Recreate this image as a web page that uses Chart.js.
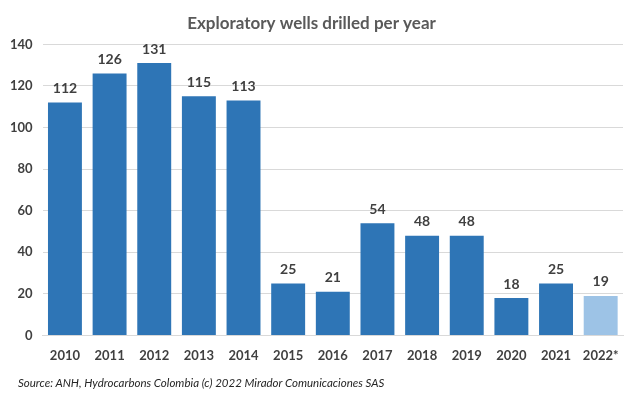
<!DOCTYPE html>
<html>
<head>
<meta charset="utf-8">
<script src="https://cdn.jsdelivr.net/npm/chart.js@4"></script>
<style>
  body { margin: 0; background: #fff; }
  #wrap { position: relative; width: 643px; height: 397px; }
  #source { position: absolute; left: 18px; top: 376px; font: italic 11.5px Lato, "Open Sans", sans-serif; color: #262626; }
</style>
</head>
<body>
<div id="wrap">
  <canvas id="myChart" width="643" height="397"></canvas>
  <div id="source">Source: ANH, Hydrocarbons Colombia (c) 2022 Mirador Comunicaciones SAS</div>
</div>
<script>
let years = ['2010', '2011', '2012', '2013', '2014', '2015', '2016', '2017', '2018', '2019', '2020', '2021', '2022*'];
let wells = [112, 126, 131, 115, 113, 25, 21, 54, 48, 48, 18, 25, 19];
let colors = ['#2E75B6', '#2E75B6', '#2E75B6', '#2E75B6', '#2E75B6', '#2E75B6', '#2E75B6',
	'#2E75B6', '#2E75B6', '#2E75B6', '#2E75B6', '#2E75B6', '#9DC3E6'];

// values above bars
let barLabels = {
	id: 'barLabels',
	afterDatasetsDraw(chart) {
		let ctx = chart.ctx;
		ctx.save();
		ctx.font = 'bold 14px Lato, sans-serif';
		ctx.fillStyle = '#404040';
		ctx.textAlign = 'center';
		ctx.textBaseline = 'bottom';
		chart.getDatasetMeta(0).data.forEach(function (bar, i) {
			ctx.fillText(wells[i], bar.x, bar.y - 7);
		});
		ctx.restore();
	}
};

let myChart = document.getElementById('myChart').getContext('2d');

let chart = new Chart(myChart, {
	type: 'bar',
	data: {
		labels: years,
		datasets: [{
			data: wells,
			backgroundColor: colors,
			categoryPercentage: 1,
			barPercentage: 0.76
		}]
	},
	options: {
		responsive: false,
		animation: false,
		layout: { padding: { left: 0, right: 20, top: 0, bottom: 28 } },
		plugins: {
			legend: { display: false },
			tooltip: { enabled: false },
			title: {
				display: true,
				text: 'Exploratory wells drilled per year',
				color: '#595959',
				font: { family: 'Lato', size: 17, weight: 'bold' },
				padding: { top: 13, bottom: 11 }
			}
		},
		scales: {
			x: {
				grid: { display: false },
				border: { color: '#d9d9d9' },
				ticks: { color: '#404040', font: { family: 'Lato', size: 13, weight: 'bold' }, padding: 5 }
			},
			y: {
				min: 0,
				max: 140,
				ticks: { stepSize: 20, color: '#404040', font: { family: 'Lato', size: 13, weight: 'bold' }, padding: 10 },
				grid: { color: '#d9d9d9', drawTicks: false },
				border: { display: false }
			}
		}
	},
	plugins: [barLabels]
});
</script>
</body>
</html>
